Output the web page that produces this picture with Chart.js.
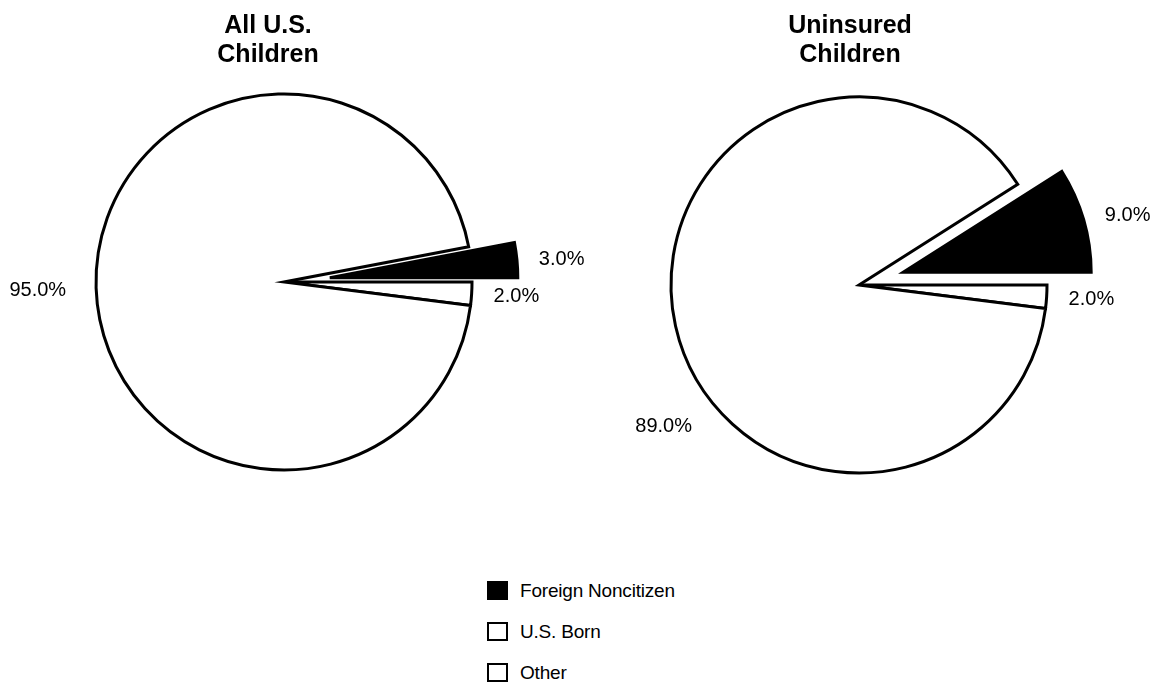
<!DOCTYPE html>
<html>
<head>
<meta charset="utf-8">
<title>Children by Citizenship Status</title>
<script src="https://cdn.jsdelivr.net/npm/chart.js@4.4.1/dist/chart.umd.min.js"></script>
<style>
  html, body { margin: 0; padding: 0; background: #fff; width: 1157px; height: 691px; overflow: hidden;
    font-family: "Liberation Sans", Arial, sans-serif; }
  canvas { position: absolute; top: 0; }
  #pieAll { left: 0; }
  #pieUninsured { left: 561px; }
  #legend { position: absolute; left: 487px; top: 570px; }
  .row { display: flex; align-items: center; height: 41px; }
  .swatch { width: 21px; height: 19px; box-sizing: border-box; border: 2.5px solid #000; margin-right: 12px; }
  .row span { font-size: 19px; color: #000; letter-spacing: -0.2px; }
</style>
</head>
<body>
<canvas id="pieAll" width="650" height="564"></canvas>
<canvas id="pieUninsured" width="596" height="570"></canvas>
<div id="legend"></div>
<script>
// Categories in legend order
const categories = ['Foreign Noncitizen', 'U.S. Born', 'Other'];
// Percent of children in each category
const allChildren = [3.0, 95.0, 2.0];
const uninsuredChildren = [9.0, 89.0, 2.0];
// Slice fills per category
const sliceFill = ['#000000', '#ffffff', '#ffffff'];
// How far each category's slice is pulled out of its pie (px)
const sliceExplode = [46, 0, 0];
// Clockwise drawing order: noncitizen, other, then U.S. born
const drawOrder = [0, 2, 1];

const FONT = '"Liberation Sans", Arial, sans-serif';

// Pulls exploded slices out along their mid-angle, then writes titles and value labels
const pieDecor = {
  id: 'pieDecor',
  afterUpdate(chart) {
    const meta = chart.getDatasetMeta(0);
    const ex = chart.options.plugins.pieDecor.explode;
    meta.data.forEach((arc, i) => {
      const d = ex[i];
      if (!d) return;
      const mid = (arc.startAngle + arc.endAngle) / 2;
      arc.x += Math.cos(mid) * d;
      arc.y += Math.sin(mid) * d;
    });
  },
  afterDraw(chart) {
    const o = chart.options.plugins.pieDecor;
    const ctx = chart.ctx;
    const meta = chart.getDatasetMeta(0);
    const values = chart.data.datasets[0].data;
    const ca = chart.chartArea;
    const cx = (ca.left + ca.right) / 2;
    ctx.save();
    ctx.fillStyle = '#000';
    // Title
    ctx.font = 'bold 25px ' + FONT;
    ctx.textAlign = 'center';
    ctx.textBaseline = 'alphabetic';
    o.title.forEach((line, k) => ctx.fillText(line, cx + o.titleShift, 33 + k * 29));
    // Value labels
    ctx.font = '20px ' + FONT;
    meta.data.forEach((arc, i) => {
      let ang = (arc.startAngle + arc.endAngle) / 2;
      let r = arc.outerRadius + 22;
      if (values[i] > 50) {
        r = arc.outerRadius + 30;
        if (o.bigLabelAngle !== null) ang = o.bigLabelAngle * Math.PI / 180;
      }
      const x = arc.x + Math.cos(ang) * r;
      const y = arc.y + Math.sin(ang) * r;
      ctx.textAlign = Math.cos(ang) < 0 ? 'right' : 'left';
      ctx.fillText(values[i].toFixed(1) + '%', x, y + 7);
    });
    ctx.restore();
  }
};

function makePie(id, values, title, titleShift, bigLabelAngle, padRight) {
  const total = values.reduce((a, b) => a + b, 0);
  const ordered = drawOrder.map(i => values[i]);
  return new Chart(document.getElementById(id), {
    type: 'pie',
    data: {
      labels: drawOrder.map(i => categories[i]),
      datasets: [{
        data: ordered,
        backgroundColor: drawOrder.map(i => sliceFill[i]),
        borderColor: '#000',
        borderWidth: 3,
        borderJoinStyle: 'miter',
        radius: 188
      }]
    },
    options: {
      responsive: false,
      animation: false,
      events: [],
      devicePixelRatio: 1,
      rotation: 90 - 360 * ordered[0] / total,
      layout: { padding: { left: 0, top: 0, bottom: 0, right: padRight } },
      plugins: {
        legend: { display: false },
        tooltip: { enabled: false },
        pieDecor: {
          title: title,
          titleShift: titleShift,
          bigLabelAngle: bigLabelAngle,
          explode: drawOrder.map(i => sliceExplode[i])
        }
      }
    },
    plugins: [pieDecor]
  });
}

makePie('pieAll', allChildren, ['All U.S.', 'Children'], -16, null, 82);
makePie('pieUninsured', uninsuredChildren, ['Uninsured', 'Children'], -9, 140, 0);

// Legend
const legend = document.getElementById('legend');
categories.forEach((name, i) => {
  const row = document.createElement('div');
  row.className = 'row';
  const sw = document.createElement('div');
  sw.className = 'swatch';
  sw.style.background = sliceFill[i];
  const label = document.createElement('span');
  label.textContent = name;
  row.appendChild(sw);
  row.appendChild(label);
  legend.appendChild(row);
});
</script>
</body>
</html>
